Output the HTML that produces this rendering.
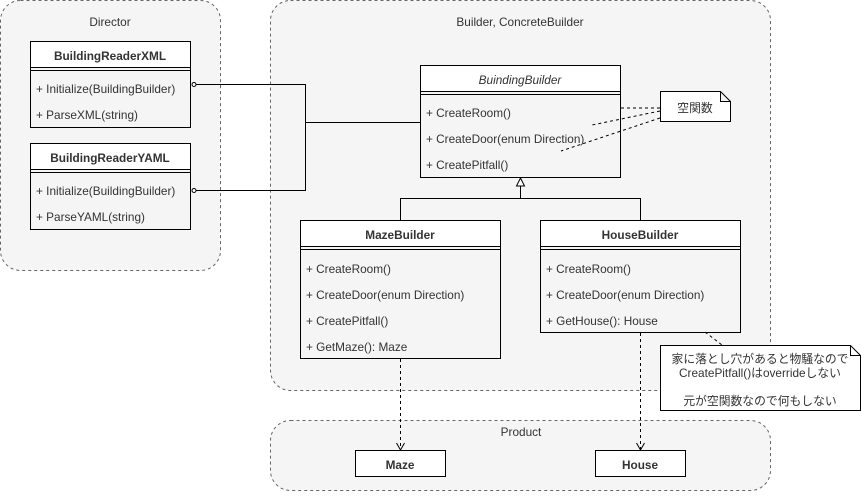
<!DOCTYPE html>
<html><head><meta charset="utf-8"><style>
body{margin:0;background:#fff;}
svg text{font-family:"Liberation Sans","Noto Sans CJK JP",sans-serif;font-size:11.8px;fill:#333;}
.b{font-weight:bold;text-anchor:middle;}
.c{text-anchor:middle;}
</style></head><body>
<svg width="861" height="492" viewBox="0 0 861 492" xmlns="http://www.w3.org/2000/svg">
<g fill="#f5f5f5" stroke="#666" stroke-dasharray="3 3" stroke-width="1">
<rect x="0.5" y="0.5" width="220" height="270" rx="20"/>
<rect x="270.5" y="0.5" width="500" height="390" rx="20"/>
<rect x="270.5" y="420.5" width="500" height="70" rx="20"/>
</g>
<text class="c" x="110" y="26">Director</text>
<text class="c" x="520" y="26">Builder, ConcreteBuilder</text>
<text class="c" x="521" y="436">Product</text>

<g fill="none" stroke="#000">
<path d="M196 84.5H305.5V190.5H196"/>
<path d="M305.5 122.5H420"/>
<path d="M520.5 186V198.5H400.5V220M520.5 198.5H640.5V220"/>
</g>
<circle cx="194" cy="84.5" r="2" fill="#fff" stroke="#000"/>
<circle cx="194" cy="190.5" r="2" fill="#fff" stroke="#000"/>
<path d="M520.5 178L516.5 186H524.5Z" fill="#fff" stroke="#000"/>

<g stroke="#000" stroke-width="1">
<rect x="30.5" y="41.5" width="160" height="86" fill="#f5f5f5"/><rect x="30.5" y="41.5" width="160" height="26" fill="#fff"/><path d="M30.5 70.5H190.5"/>
<rect x="30.5" y="143.5" width="160" height="86" fill="#f5f5f5"/><rect x="30.5" y="143.5" width="160" height="26" fill="#fff"/><path d="M30.5 172.5H190.5"/>
<rect x="420.5" y="65.5" width="200" height="112" fill="#f5f5f5"/><rect x="420.5" y="65.5" width="200" height="26" fill="#fff"/><path d="M420.5 94.5H620.5"/>
<rect x="300.5" y="220.5" width="200" height="138" fill="#f5f5f5"/><rect x="300.5" y="220.5" width="200" height="26" fill="#fff"/><path d="M300.5 249.5H500.5"/>
<rect x="540.5" y="220.5" width="200" height="112" fill="#f5f5f5"/><rect x="540.5" y="220.5" width="200" height="26" fill="#fff"/><path d="M540.5 249.5H740.5"/>
<rect x="355.5" y="450.5" width="90" height="26" fill="#fff"/>
<rect x="595.5" y="450.5" width="90" height="26" fill="#fff"/>
</g>
<text class="b" x="110" y="60">BuildingReaderXML</text>
<text x="36" y="93">+ Initialize(BuildingBuilder)</text>
<text x="36" y="119">+ ParseXML(string)</text>
<text class="b" x="110" y="162">BuildingReaderYAML</text>
<text x="36" y="195">+ Initialize(BuildingBuilder)</text>
<text x="36" y="221">+ ParseYAML(string)</text>
<text class="c" x="520" y="84" style="font-style:italic">BuindingBuilder</text>
<text x="426" y="117">+ CreateRoom()</text>
<text x="426" y="143">+ CreateDoor(enum Direction)</text>
<text x="426" y="169">+ CreatePitfall()</text>
<text class="b" x="400" y="239">MazeBuilder</text>
<text x="306" y="273">+ CreateRoom()</text>
<text x="306" y="299">+ CreateDoor(enum Direction)</text>
<text x="306" y="325">+ CreatePitfall()</text>
<text x="306" y="351">+ GetMaze(): Maze</text>
<text class="b" x="640" y="239">HouseBuilder</text>
<text x="546" y="273">+ CreateRoom()</text>
<text x="546" y="299">+ CreateDoor(enum Direction)</text>
<text x="546" y="325">+ GetHouse(): House</text>
<text class="b" x="400" y="469">Maze</text>
<text class="b" x="640" y="469">House</text>

<g fill="none" stroke="#000" stroke-dasharray="3 3">
<path d="M660 108L621 108M660 111L592 125M660 118L561 151"/>
<path d="M705 332L722 345"/>
<path d="M400.5 359V449M640.5 333V449"/>
</g>
<path d="M396.5 443L400.5 450L404.5 443M636.5 443L640.5 450L644.5 443" fill="none" stroke="#000"/>
<path d="M660.5 91.5H720.5L730.5 101.5V121.5H660.5Z M720.5 91.5V101.5H730.5" fill="#fff" stroke="#000"/>
<text class="c" x="695" y="112">空関数</text>
<path d="M660.5 345.5H850.5L860.5 355.5V410.5H660.5Z M850.5 345.5V355.5H860.5" fill="#fff" stroke="#000"/>
<text class="c" x="760" y="363">家に落とし穴があると物騒なので</text>
<text class="c" x="760" y="377">CreatePitfall()はoverrideしない</text>
<text class="c" x="760" y="405">元が空関数なので何もしない</text>
</svg>
</body></html>
